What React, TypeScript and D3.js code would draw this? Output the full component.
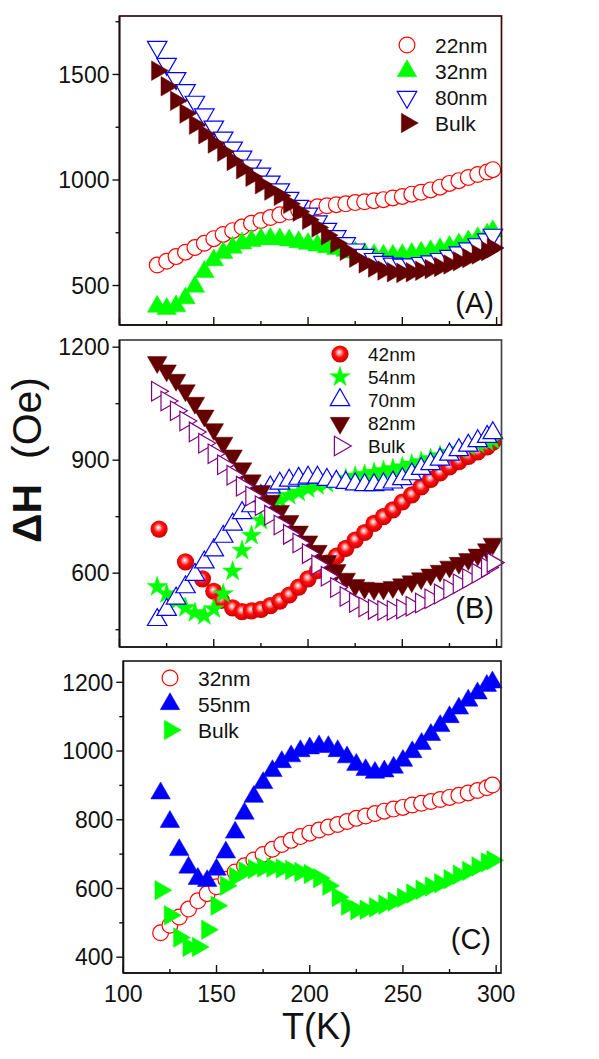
import * as d3 from 'd3';

const FONT = '"Liberation Sans", Arial, Helvetica, sans-serif';

// measurement temperatures (K), shared by most series
const temps = [120, 125, 130, 135, 140, 145, 150, 155, 160, 165, 170, 175, 180, 185, 190, 195, 200, 205, 210, 215, 220, 225, 230, 235, 240, 245, 250, 255, 260, 265, 270, 275, 280, 285, 290, 295, 298];

// panel A
const a22 = [597, 615, 637, 658, 680, 700, 722, 742, 760, 777, 795, 808, 822, 835, 848, 858, 864, 873, 878, 883, 887, 893, 897, 902, 907, 915, 922, 933, 942, 953, 966, 984, 997, 1012, 1026, 1038, 1049];
const a32 = [400, 390, 402, 440, 495, 565, 620, 655, 680, 700, 712, 720, 722, 720, 714, 706, 698, 690, 682, 674, 665, 657, 650, 645, 642, 642, 645, 650, 656, 664, 673, 684, 696, 710, 725, 742, 758];
const a80 = [1630, 1550, 1482, 1425, 1370, 1310, 1252, 1200, 1153, 1110, 1068, 1030, 992, 955, 915, 877, 840, 803, 768, 733, 700, 670, 645, 625, 611, 603, 598, 600, 606, 614, 625, 640, 656, 675, 695, 718, 740];
const aBulk = [1518, 1444, 1375, 1315, 1262, 1217, 1173, 1134, 1090, 1051, 1015, 980, 950, 925, 887, 850, 812, 775, 738, 700, 665, 632, 605, 585, 571, 563, 560, 563, 570, 578, 588, 600, 615, 630, 647, 663, 678];

// panel B
const b42T = [121, 135, 144, 150, 154, 160, 165, 170, 175, 180, 185, 190, 195, 200, 205, 210, 215, 220, 225, 230, 235, 240, 245, 250, 255, 260, 265, 270, 275, 280, 285, 290, 295, 298];
const b42 = [717, 630, 585, 552, 528, 508, 498, 500, 504, 514, 526, 542, 563, 585, 607, 627, 645, 666, 688, 708, 732, 750, 768, 789, 808, 829, 849, 866, 882, 896, 910, 922, 935, 948];
const b54 = [564, 545, 525, 508, 495, 487, 505, 545, 605, 660, 700, 740, 772, 795, 806, 815, 824, 832, 838, 845, 851, 857, 862, 867, 872, 877, 882, 889, 896, 904, 912, 920, 928, 936, 942, 948, 953];
const b70 = [476, 503, 533, 563, 596, 629, 661, 697, 729, 760, 778, 805, 828, 838, 846, 851, 854, 854, 848, 843, 840, 836, 834, 834, 836, 841, 850, 863, 877, 890, 902, 915, 927, 939, 951, 962, 972];
const b82 = [1160, 1138, 1113, 1085, 1052, 1018, 982, 946, 912, 878, 846, 818, 792, 765, 738, 710, 684, 659, 632, 608, 585, 568, 561, 558, 559, 563, 570, 578, 586, 596, 606, 617, 627, 637, 649, 663, 678];
const bBulk = [1083, 1057, 1031, 1004, 975, 945, 917, 888, 860, 831, 805, 779, 754, 728, 703, 680, 652, 622, 592, 562, 538, 522, 510, 504, 501, 501, 505, 512, 521, 532, 545, 558, 572, 586, 600, 615, 628];

// panel C
const c32 = [471, 493, 517, 540, 564, 585, 605, 627, 648, 666, 683, 699, 714, 728, 740, 751, 761, 770, 779, 786, 795, 804, 811, 818, 825, 831, 836, 843, 848, 853, 859, 865, 871, 878, 885, 893, 901];
const c55 = [877, 794, 712, 661, 628, 622, 655, 705, 763, 818, 867, 907, 942, 968, 985, 1000, 1008, 1014, 1012, 1000, 982, 960, 945, 937, 941, 952, 972, 997, 1021, 1047, 1073, 1099, 1124, 1147, 1168, 1190, 1200];
const cBulk = [595, 522, 457, 430, 430, 480, 550, 608, 634, 650, 657, 661, 661, 658, 654, 648, 642, 630, 608, 575, 550, 537, 538, 545, 553, 562, 573, 585, 596, 606, 615, 627, 640, 651, 664, 676, 682];

const xMajor = [100, 150, 200, 250, 300];
const xMinor = [125, 175, 225, 275];

type Kind = 'circle' | 'sphere' | 'up' | 'down' | 'right' | 'star';

interface Series {
  name: string;
  t: number[];
  v: number[];
  kind: Kind;
  color: string;
  filled: boolean;
}

const RED = '#ff0000';
const GREEN = '#00ff00';
const BLUE = '#0000ff';
const MAROON = '#640000';
const PURPLE = '#800080';

const triPath = d3.symbol().type(d3.symbolTriangle).size(165)()!;
const starPath = d3.symbol().type(d3.symbolStar).size(125)()!;

function Marker({ kind, color, filled, x, y }: { kind: Kind; color: string; filled: boolean; x: number; y: number }) {
  const fill = filled ? color : '#fff';
  if (kind === 'circle') {
    return <circle cx={x} cy={y} r={7.9} fill={fill} stroke={color} strokeWidth={1.2} />;
  }
  if (kind === 'sphere') {
    return <circle cx={x} cy={y} r={8.6} fill="url(#sphere)" />;
  }
  const d = kind === 'star' ? starPath : triPath;
  const rot = kind === 'down' ? 180 : kind === 'right' ? 90 : 0;
  return (
    <path
      d={d}
      transform={`translate(${x},${y}) rotate(${rot})`}
      fill={fill}
      stroke={color}
      strokeWidth={filled ? 0.5 : 1.2}
      strokeLinejoin="miter"
    />
  );
}

interface PanelProps {
  left: number;
  right: number;
  top: number;
  bottom: number;
  yDomain: [number, number];
  yMajor: number[];
  yMinor: number[];
  series: Series[];
  legendX: number;
  legendY: number;
  legendStep: number;
  legendFont: number;
  tag: string;
  tagX: number;
  tagY: number;
  frame: string;
  xLabels?: boolean;
}

function Panel(p: PanelProps) {
  const x = d3.scaleLinear().domain([100, 302.6]).range([p.left, p.right]);
  const y = d3.scaleLinear().domain(p.yDomain).range([p.bottom, p.top]);
  const x0 = p.left;
  return (
    <g>
      {/* data */}
      {p.series.map((s) => (
        <g key={s.name}>
          {s.v.map((v, i) => (
            <Marker key={i} kind={s.kind} color={s.color} filled={s.filled} x={x(s.t[i])} y={y(v)} />
          ))}
        </g>
      ))}

      {/* frame */}
      <rect x={p.left} y={p.top} width={p.right - p.left} height={p.bottom - p.top} fill="none" stroke={p.frame} strokeWidth={1.7} />
      <line x1={x0} x2={x0} y1={p.top} y2={p.bottom} stroke="#111" strokeWidth={1.7} />
      <line x1={p.left} x2={p.right} y1={p.bottom} y2={p.bottom} stroke="#111" strokeWidth={1.7} />

      {/* y ticks, outward */}
      {p.yMajor.map((v) => (
        <g key={`ym${v}`}>
          <line x1={x0 - 7} x2={x0} y1={y(v)} y2={y(v)} stroke="#111" strokeWidth={1.4} />
          <text x={x0 - 10} y={y(v)} dy="0.36em" textAnchor="end" fontSize={23} fontFamily={FONT} fill="#111">
            {v}
          </text>
        </g>
      ))}
      {p.yMinor.map((v) => (
        <line key={`yn${v}`} x1={x0 - 4} x2={x0} y1={y(v)} y2={y(v)} stroke="#111" strokeWidth={1.4} />
      ))}

      {/* x ticks, inward */}
      {xMajor.map((t) => (
        <g key={`xm${t}`}>
          <line x1={x(t)} x2={x(t)} y1={p.bottom - 8} y2={p.bottom} stroke="#111" strokeWidth={1.4} />
          {p.xLabels && (
            <text x={x(t)} y={p.bottom + 29} textAnchor="middle" fontSize={23} fontFamily={FONT} fill="#111">
              {t}
            </text>
          )}
        </g>
      ))}
      {xMinor.map((t) => (
        <line key={`xn${t}`} x1={x(t)} x2={x(t)} y1={p.bottom - 4} y2={p.bottom} stroke="#111" strokeWidth={1.4} />
      ))}

      {/* legend */}
      {p.series.map((s, i) => {
        const ly = p.legendY + i * p.legendStep;
        return (
          <g key={`lg${s.name}`}>
            <Marker kind={s.kind} color={s.color} filled={s.filled} x={p.legendX} y={ly} />
            <text x={p.legendX + 28} y={ly} dy="0.36em" fontSize={p.legendFont} fontFamily={FONT} fill="#111">
              {s.name}
            </text>
          </g>
        );
      })}

      <text x={p.tagX} y={p.tagY} textAnchor="end" fontSize={29} fontFamily={FONT} fill="#111">
        {p.tag}
      </text>
    </g>
  );
}

export default function App() {
  const seriesA: Series[] = [
    { name: '22nm', t: temps, v: a22, kind: 'circle', color: RED, filled: false },
    { name: '32nm', t: temps, v: a32, kind: 'up', color: GREEN, filled: true },
    { name: '80nm', t: temps, v: a80, kind: 'down', color: BLUE, filled: false },
    { name: 'Bulk', t: temps, v: aBulk, kind: 'right', color: MAROON, filled: true },
  ];
  const seriesB: Series[] = [
    { name: '42nm', t: b42T, v: b42, kind: 'sphere', color: RED, filled: true },
    { name: '54nm', t: temps, v: b54, kind: 'star', color: GREEN, filled: true },
    { name: '70nm', t: temps, v: b70, kind: 'up', color: BLUE, filled: false },
    { name: '82nm', t: temps, v: b82, kind: 'down', color: MAROON, filled: true },
    { name: 'Bulk', t: temps, v: bBulk, kind: 'right', color: PURPLE, filled: false },
  ];
  const seriesC: Series[] = [
    { name: '32nm', t: temps, v: c32, kind: 'circle', color: RED, filled: false },
    { name: '55nm', t: temps, v: c55, kind: 'up', color: BLUE, filled: true },
    { name: 'Bulk', t: temps, v: cBulk, kind: 'right', color: GREEN, filled: true },
  ];

  return (
    <svg
      width={599}
      height={1059}
      viewBox="0 0 599 1059"
      style={{ position: 'absolute', left: 0, top: 0, background: '#fff' }}
    >
      <defs>
        <radialGradient id="sphere" cx="48%" cy="45%" r="55%" fx="45%" fy="40%">
          <stop offset="0%" stopColor="#ffffff" />
          <stop offset="22%" stopColor="#ff9a9a" />
          <stop offset="50%" stopColor="#ff1010" />
          <stop offset="100%" stopColor="#c80000" />
        </radialGradient>
      </defs>
      <rect width={599} height={1059} fill="#fff" />

      <Panel
        left={119.5}
        right={501.5}
        top={16}
        bottom={325}
        yDomain={[313, 1777]}
        yMajor={[500, 1000, 1500]}
        yMinor={[750, 1250, 1750]}
        series={seriesA}
        legendX={407}
        legendY={45}
        legendStep={26}
        legendFont={21}
        tag="(A)"
        tagX={494}
        tagY={313}
        frame="#3a0a0a"
      />
      <Panel
        left={119.5}
        right={501.5}
        top={340}
        bottom={647}
        yDomain={[404, 1219]}
        yMajor={[600, 900, 1200]}
        yMinor={[450, 750, 1050]}
        series={seriesB}
        legendX={340}
        legendY={354}
        legendStep={23}
        legendFont={19}
        tag="(B)"
        tagX={494}
        tagY={618}
        frame="#444"
      />
      <Panel
        left={123.3}
        right={501}
        top={661}
        bottom={973}
        yDomain={[354, 1262]}
        yMajor={[400, 600, 800, 1000, 1200]}
        yMinor={[500, 700, 900, 1100]}
        series={seriesC}
        legendX={170}
        legendY={678}
        legendStep={26}
        legendFont={21}
        tag="(C)"
        tagX={491}
        tagY={949}
        frame="#222"
        xLabels
      />

      {/* axis titles */}
      <text transform="translate(41,543) rotate(-90)" fontSize={41} fontFamily={FONT} fontWeight="bold" fill="#111">
        ΔH
      </text>
      <text transform="translate(41,377) rotate(-90)" textAnchor="end" fontSize={41} fontFamily={FONT} fill="#111">
        (Oe)
      </text>
      <text x={317} y={1039} textAnchor="middle" fontSize={36} fontFamily={FONT} fill="#111">
        T(K)
      </text>
    </svg>
  );
}
